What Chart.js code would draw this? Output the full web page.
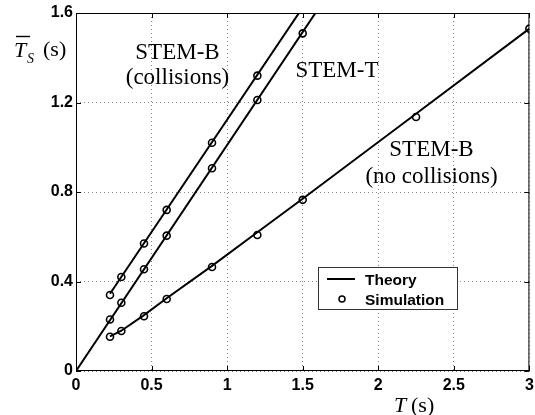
<!DOCTYPE html>
<html>
<head>
<meta charset="utf-8">
<script src="https://cdn.jsdelivr.net/npm/chart.js@4/dist/chart.umd.min.js"></script>
<style>
  html, body { margin: 0; padding: 0; background: #fff; }
  #wrap { width: 535px; height: 415px; }
</style>
</head>
<body>
<div id="wrap"><canvas id="myChart"></canvas></div>
<script>
// simulation points (circles)
const simT = [0.225, 0.3, 0.45, 0.6, 0.9, 1.2, 1.5, 2.25, 3];
const simCollisions = [0.34, 0.42, 0.57, 0.72, 1.02, 1.32];
const simStemT = [0.23, 0.305, 0.455, 0.605, 0.906, 1.211, 1.509];
const simNoCollisions = [0.153, 0.179, 0.245, 0.322, 0.465, 0.608, 0.765, 1.135, 1.53];

// theory curves (solid lines)
const theoryCollisionsT = [0.225, 1.5];
const theoryCollisions = [0.345, 1.625];
const theoryStemT_T = [0, 1.6];
const theoryStemT = [0, 1.616];
const theoryNoCollisionsT = [0.225, 0.3, 0.45, 0.6, 0.9, 1.2, 1.5, 2.25, 3];
const theoryNoCollisions = [0.155, 0.18, 0.25, 0.325, 0.47, 0.62, 0.77, 1.15, 1.53];

const xTicks = [0, 0.5, 1, 1.5, 2, 2.5, 3];
const yTicks = [0, 0.4, 0.8, 1.2, 1.6];

const pts = (xs, ys) => ys.map((y, i) => ({ x: xs[i], y: y }));

const lineDs = (xs, ys) => ({
    data: pts(xs, ys),
    showLine: true,
    borderColor: "#000",
    borderWidth: 2,
    pointRadius: 0,
    tension: 0,
    fill: false,
});
const simDs = (ys) => ({
    data: pts(simT, ys),
    showLine: false,
    pointRadius: 3.5,
    pointBorderWidth: 1.6,
    pointBorderColor: "#000",
    pointBackgroundColor: "rgba(0,0,0,0)",
});

const tickFont = { family: "Liberation Sans", size: 16, weight: "bold" };

// frame, inward ticks, legend box, titles, curve labels
const decor = {
    id: "decor",
    afterDraw(chart) {
        const { ctx, chartArea: a, scales: { x, y } } = chart;
        ctx.save();
        ctx.strokeStyle = "#000";
        ctx.lineWidth = 1;
        ctx.strokeRect(a.left + 0.5, a.top + 0.5, a.right - a.left - 1, a.bottom - a.top - 1);
        ctx.beginPath();
        xTicks.forEach((v) => {
            const px = Math.round(x.getPixelForValue(v)) + 0.5;
            ctx.moveTo(px, a.bottom); ctx.lineTo(px, a.bottom - 5);
            ctx.moveTo(px, a.top); ctx.lineTo(px, a.top + 5);
        });
        yTicks.forEach((v) => {
            const py = Math.round(y.getPixelForValue(v)) + 0.5;
            ctx.moveTo(a.left, py); ctx.lineTo(a.left + 5, py);
            ctx.moveTo(a.right, py); ctx.lineTo(a.right - 5, py);
        });
        ctx.stroke();

        // legend
        ctx.fillStyle = "#fff";
        ctx.fillRect(318, 267, 139, 42);
        ctx.strokeStyle = "#333";
        ctx.strokeRect(318.5, 267.5, 139, 42);
        ctx.strokeStyle = "#000";
        ctx.lineWidth = 2;
        ctx.beginPath(); ctx.moveTo(327, 279); ctx.lineTo(355, 279); ctx.stroke();
        ctx.lineWidth = 1.5;
        ctx.beginPath(); ctx.arc(342, 299, 3, 0, Math.PI * 2); ctx.stroke();
        ctx.fillStyle = "#000";
        ctx.font = "bold 15.5px 'Liberation Sans'";
        ctx.textBaseline = "alphabetic";
        ctx.textAlign = "left";
        ctx.fillText("Theory", 365, 285);
        ctx.fillText("Simulation", 365, 305);

        // curve labels
        ctx.font = "23px 'Liberation Serif'";
        ctx.textAlign = "center";
        ctx.fillText("STEM-B", 177.5, 59);
        ctx.fillText("(collisions)", 177.5, 84);
        ctx.fillText("STEM-T", 337, 77);
        ctx.fillText("STEM-B", 431.5, 156);
        ctx.fillText("(no collisions)", 431.5, 183);

        // y axis title: T-bar sub S (s)
        ctx.textAlign = "left";
        ctx.font = "italic 22px 'Liberation Serif'";
        ctx.fillText("T", 14, 57);
        ctx.lineWidth = 1.4;
        ctx.beginPath(); ctx.moveTo(16, 36.5); ctx.lineTo(30, 36.5); ctx.stroke();
        ctx.font = "italic 14px 'Liberation Serif'";
        ctx.fillText("S", 27, 63);
        ctx.font = "22px 'Liberation Serif'";
        ctx.fillText("(s)", 43, 56);

        // x axis title: T (s)
        ctx.font = "italic 22px 'Liberation Serif'";
        ctx.fillText("T", 394, 412);
        ctx.font = "22px 'Liberation Serif'";
        ctx.fillText("(s)", 411, 412);
        ctx.restore();
    },
};

const fmt = (v) => String(v);

new Chart(document.getElementById("myChart"), {
    type: "scatter",
    data: {
        datasets: [
            lineDs(theoryCollisionsT, theoryCollisions),
            lineDs(theoryStemT_T, theoryStemT),
            lineDs(theoryNoCollisionsT, theoryNoCollisions),
            simDs(simCollisions),
            simDs(simStemT),
            simDs(simNoCollisions),
        ],
    },
    options: {
        animation: false,
        responsive: true,
        maintainAspectRatio: false,
        layout: { padding: { top: 13, right: 4, left: 0, bottom: 0 } },
        plugins: { legend: { display: false }, tooltip: { enabled: false } },
        scales: {
            x: {
                type: "linear",
                min: 0,
                max: 3,
                afterBuildTicks: (s) => { s.ticks = xTicks.map((v) => ({ value: v })); },
                afterFit: (s) => { s.height = 44; s.paddingLeft = 0; s.paddingRight = 0; },
                grid: { color: "#888", lineWidth: 1, drawTicks: false },
                border: { display: false, dash: [1, 3] },
                ticks: { color: "#000", font: tickFont, padding: 5, maxRotation: 0, callback: fmt },
            },
            y: {
                min: 0,
                max: 1.6,
                afterBuildTicks: (s) => { s.ticks = yTicks.map((v) => ({ value: v })); },
                afterFit: (s) => { s.width = 76; s.paddingTop = 0; s.paddingBottom = 0; },
                grid: { color: "#888", lineWidth: 1, drawTicks: false },
                border: { display: false, dash: [1, 3] },
                ticks: { color: "#000", font: tickFont, padding: 3, callback: fmt },
            },
        },
    },
    plugins: [decor],
});
</script>
</body>
</html>
